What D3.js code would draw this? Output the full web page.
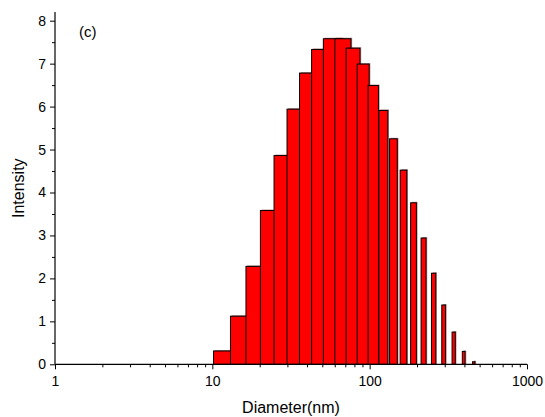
<!DOCTYPE html>
<html>
<head>
<meta charset="utf-8">
<script src="https://cdn.jsdelivr.net/npm/d3@7"></script>
<style>
  html, body { margin: 0; padding: 0; background: #fff; }
  svg { display: block; }
  text { font-family: "Liberation Sans", Arial, sans-serif; fill: #000; }
</style>
</head>
<body>
<svg id="chart" width="545" height="417"></svg>
<script>
// Size classes (nm) and intensity (%) of the distribution
const diameters = [18.17, 21.04, 24.36, 28.21, 32.67, 37.84, 43.82, 50.75, 58.77, 68.06,
                   78.82, 91.28, 105.7, 122.4, 141.8, 164.2, 190.1, 220.2, 255.0, 295.3,
                   342.0, 396.1, 458.7];
const intensity = [0.31, 1.12, 2.28, 3.58, 4.86, 5.94, 6.78, 7.33, 7.58, 7.58,
                   7.36, 6.99, 6.49, 5.91, 5.25, 4.52, 3.76, 2.94, 2.12, 1.38,
                   0.75, 0.30, 0.06];
const xTicks = [1, 10, 100, 1000];
const yTicks = [0, 1, 2, 3, 4, 5, 6, 7, 8];

const barWidthNm = 16;   // column width in data units

const svg = d3.select("#chart");

const x = d3.scaleLog().domain([1, 1000]).range([55, 527]);
const y = d3.scaleLinear().domain([0, 8.2]).range([364.3, 12.1]);

// Columns, drawn left to right so each one overlaps the previous
const bars = svg.append("g");
diameters.forEach((d, i) => {
  const x0 = x(d - barWidthNm / 2), x1 = x(d + barWidthNm / 2);
  const top = y(intensity[i]), base = y(0);
  const g = bars.append("g");
  g.append("rect")
    .attr("x", x0 + 1.2).attr("y", top - 1)
    .attr("width", x1 - x0).attr("height", base - top + 1)
    .attr("fill", "#600000").attr("opacity", 0.45);
  g.append("rect")
    .attr("x", x0).attr("y", top)
    .attr("width", x1 - x0).attr("height", base - top)
    .attr("fill", "#ff0000").attr("stroke", "#000").attr("stroke-width", 1);
});

// Minor tick values
const xMinor = [];
[1, 10, 100].forEach(dec => { for (let k = 2; k <= 9; k++) xMinor.push(dec * k); });
const yMinor = d3.range(0.5, 8, 1);

// Bottom axis
const xAxis = svg.append("g").attr("transform", `translate(0,${y(0)})`)
  .call(d3.axisBottom(x).tickValues(xTicks).tickFormat(d3.format("d")).tickSize(5).tickPadding(7));
svg.append("g").attr("transform", `translate(0,${y(0)})`)
  .call(d3.axisBottom(x).tickValues(xMinor).tickFormat("").tickSize(3))
  .call(g => g.select(".domain").remove());

// Left axis
const yAxis = svg.append("g").attr("transform", `translate(${x(1)},0)`)
  .call(d3.axisLeft(y).tickValues(yTicks).tickFormat(d3.format("d")).tickSize(5).tickPadding(4));
svg.append("g").attr("transform", `translate(${x(1)},0)`)
  .call(d3.axisLeft(y).tickValues(yMinor).tickFormat("").tickSize(3))
  .call(g => g.select(".domain").remove());

svg.selectAll(".domain").attr("stroke", "#000").attr("stroke-width", 1.2);
svg.selectAll(".tick line").attr("stroke", "#000").attr("stroke-width", 1);
svg.selectAll(".tick text").attr("font-size", 14).attr("font-family", "Liberation Sans, Arial, sans-serif");
xAxis.selectAll(".domain").attr("d", `M${x(1)},0H${x(1000)}`);
yAxis.selectAll(".domain").attr("d", `M0,${y(0)}V${y(8.2)}`);

// Axis titles
svg.append("text")
  .attr("x", (x(1) + x(1000)) / 2).attr("y", 412.5)
  .attr("text-anchor", "middle").attr("font-size", 16)
  .text("Diameter(nm)");
svg.append("text")
  .attr("transform", `translate(24,${(y(0) + y(8.2)) / 2}) rotate(-90)`)
  .attr("text-anchor", "middle").attr("font-size", 16)
  .text("Intensity");

// Panel label
svg.append("text")
  .attr("x", 79).attr("y", 37).attr("font-size", 15)
  .text("(c)");
</script>
</body>
</html>
